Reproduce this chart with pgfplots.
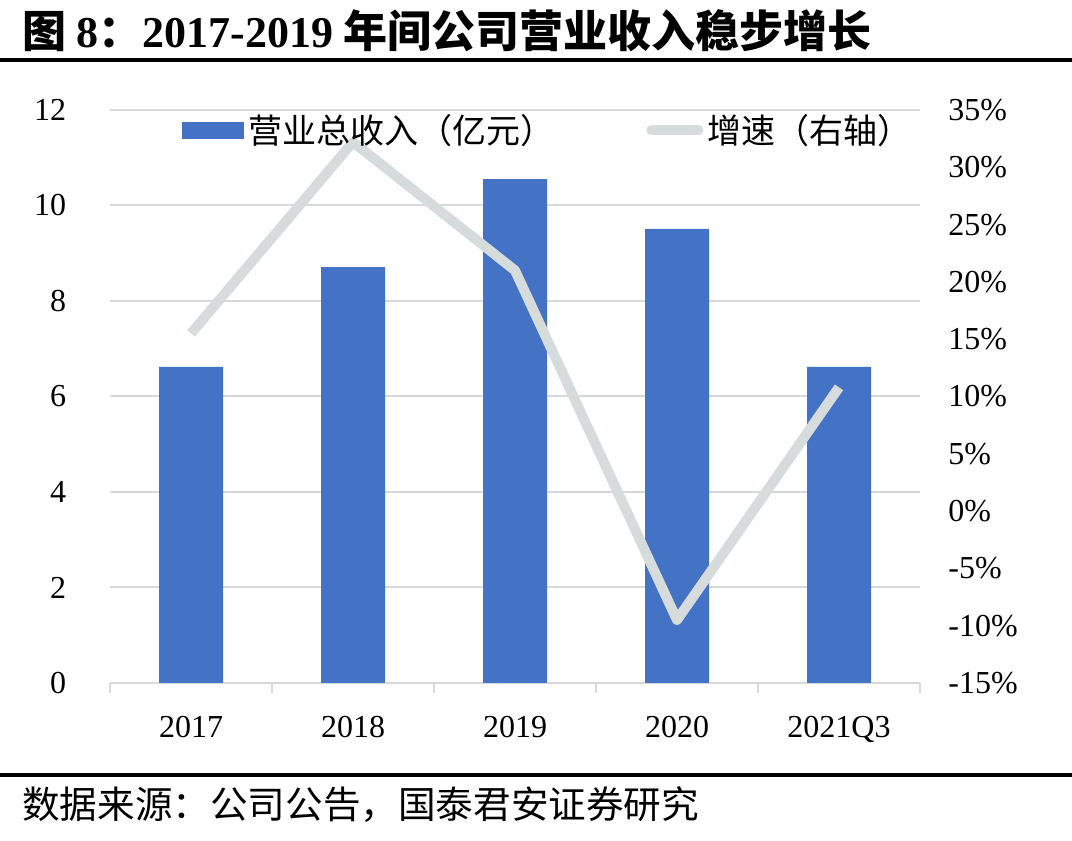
\documentclass[border=0pt]{standalone}
\usepackage{pgfplots}
\pgfplotsset{compat=1.18}
\usepackage{fontspec}
\setmainfont{Liberation Serif}
\newfontfamily\cjk{Noto Sans CJK SC}
\definecolor{barblue}{HTML}{4472C4}
\definecolor{lineg}{RGB}{214,220,219}
\definecolor{gridg}{RGB}{217,217,217}
\begin{document}
\begin{tikzpicture}
\path[use as bounding box] (0,0) rectangle (536pt,420.5pt);
\node[anchor=west,inner sep=0pt] at (11pt,405pt) {\fontsize{22}{22}\selectfont\cjk\bfseries 图 \textrm{\textbf{8}}：\textrm{\textbf{2017-2019}} 年间公司营业收入稳步增长};
\draw[line width=2pt] (0,390.5pt) -- (536pt,390.5pt);
\draw[line width=2pt] (0,33pt) -- (536pt,33pt);
\node[anchor=west,inner sep=0pt] at (11pt,18pt) {\fontsize{18.8}{18.8}\selectfont\cjk 数据来源：公司公告，国泰君安证券研究};
\begin{axis}[
  at={(55pt,79pt)}, anchor=south west,
  scale only axis, width=405pt, height=286.5pt,
  xmin=-0.5, xmax=4.5, ymin=0, ymax=12,
  ytick={0,2,...,12},
  xtick={0,1,2,3,4},
  xticklabels={2017,2018,2019,2020,2021Q3},
  minor xtick={-0.5,0.5,1.5,2.5,3.5,4.5},
  major x tick style={draw=none},
  minor x tick style={draw=gridg, line width=1pt},
  tick align=outside,
  minor tick length=5pt,
  axis x line*=bottom,
  axis y line*=left,
  x axis line style={draw=gridg, line width=1pt, -},
  y axis line style={draw=none},
  major y tick style={draw=none},
  ymajorgrids,
  grid style={draw=gridg, line width=1pt},
  tick label style={font=\fontsize{16}{16}\selectfont},
  yticklabel style={anchor=east, inner sep=0pt, xshift=-17.5pt},
  xticklabel style={anchor=north, inner sep=0pt, yshift=-12pt},
  /pgf/number format/assume math mode=true,
]
\addplot[ybar, bar width=32pt, fill=barblue, draw=none] coordinates {(0,6.62) (1,8.71) (2,10.55) (3,9.51) (4,6.62)};
\end{axis}
\begin{axis}[
  at={(55pt,79pt)}, anchor=south west,
  scale only axis, width=405pt, height=286.5pt,
  xmin=-0.5, xmax=4.5, ymin=-15, ymax=35,
  hide x axis,
  axis y line*=right,
  y axis line style={draw=none},
  major y tick style={draw=none},
  ytick={-15,-10,...,35},
  yticklabels={-15\%,-10\%,-5\%,0\%,5\%,10\%,15\%,20\%,25\%,30\%,35\%},
  tick label style={font=\fontsize{16}{16}\selectfont},
  yticklabel style={anchor=west, inner sep=0pt, xshift=14pt},
  legend style={draw=none, fill=none, at={(0.089,0.965)}, anchor=west, inner sep=0pt,
    font=\fontsize{17}{17}\selectfont\cjk,
    /tikz/every even column/.append style={column sep=44pt}},
  legend columns=2,
]
\addlegendimage{legend image code/.code={\fill[barblue] (0pt,-4pt) rectangle (30.5pt,4pt);}}
\addlegendentry{营业总收入（亿元）}
\addplot[color=lineg, line width=5pt, sharp plot, line join=round,
  legend image code/.code={\draw[lineg, line width=5pt, line cap=round] (2.5pt,0pt) -- (26pt,0pt);}]
  coordinates {(0,15.5) (1,32.2) (2,21.0) (3,-9.5) (4,10.8)};
\addlegendentry{增速（右轴）}
\end{axis}
\end{tikzpicture}
\end{document}
